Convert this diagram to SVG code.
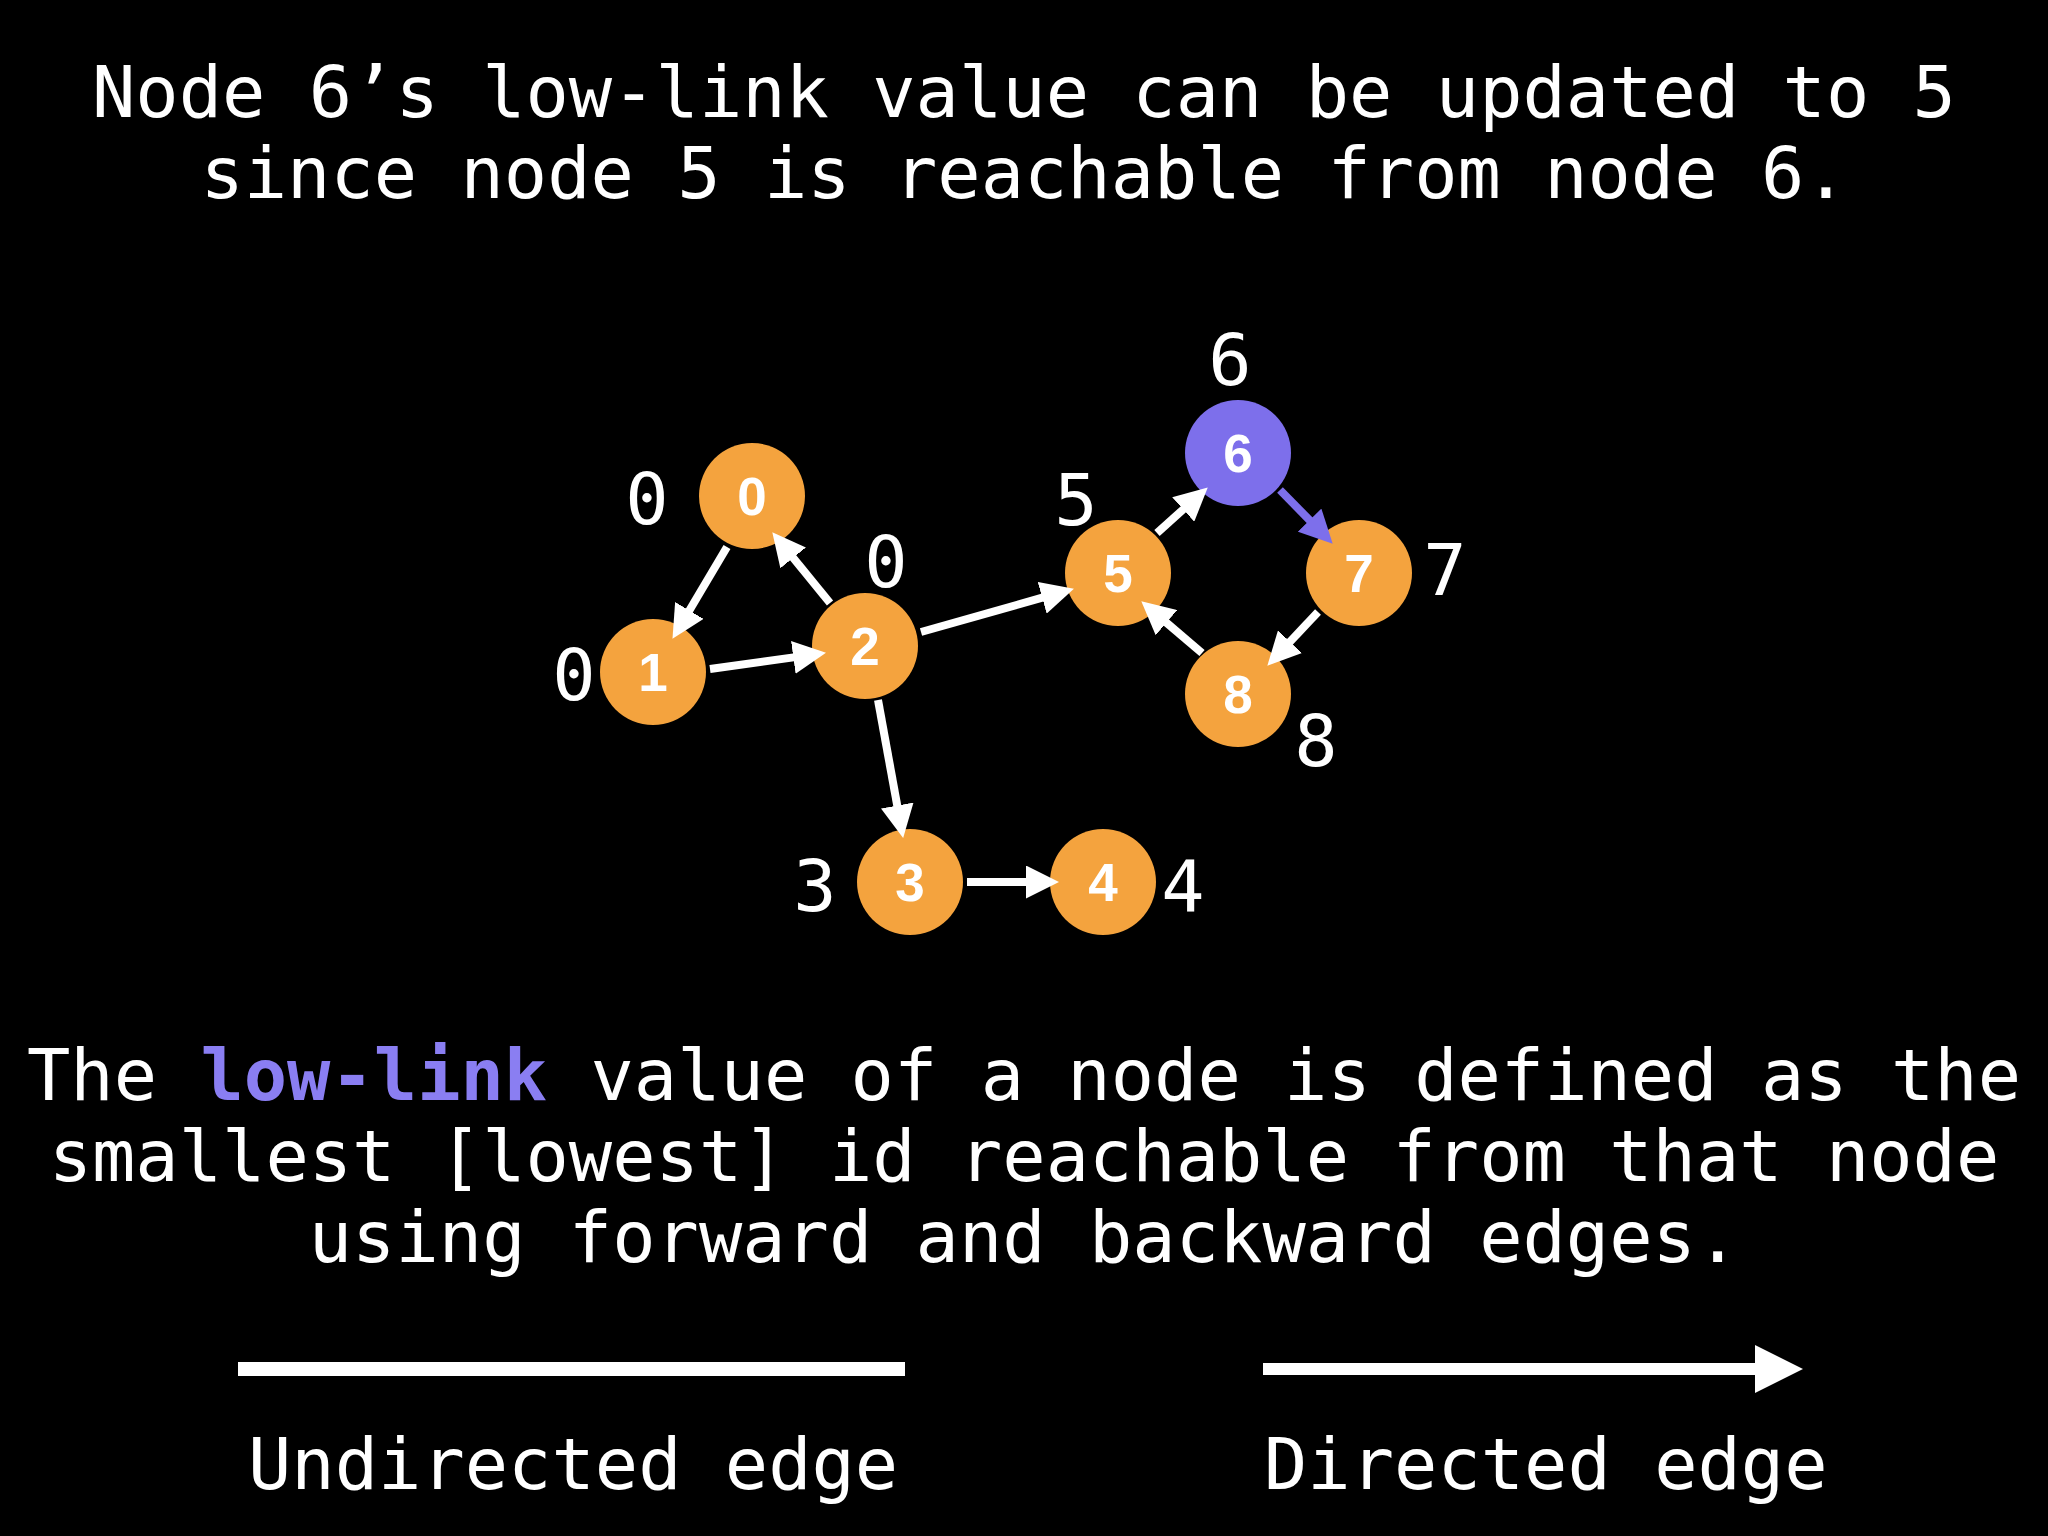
<svg xmlns="http://www.w3.org/2000/svg" width="2048" height="1536" viewBox="0 0 2048 1536">
  <defs>
    <style>
      .txt { font-family: "DejaVu Sans Mono", "Liberation Mono", monospace; font-size: 72px; fill: #ffffff; }
      .mid { text-anchor: middle; }
      .hl { fill: #8A7EF2; font-weight: bold; }
      .node { fill: #F4A33E; }
      .node-hl { fill: #7D6FEB; }
      .nlabel { font-family: "Liberation Sans", Arial, sans-serif; font-weight: bold; font-size: 53px; fill: #ffffff; text-anchor: middle; }
      .llv { font-family: "DejaVu Sans Mono", "Liberation Mono", monospace; font-size: 72px; fill: #ffffff; text-anchor: middle; }
      .edge { stroke: #ffffff; stroke-width: 8; fill: none; marker-end: url(#arrow); }
      .edge-hl { stroke: #7D6FEB; stroke-width: 8; fill: none; marker-end: url(#arrow-hl); }
    </style>
    <marker id="arrow" viewBox="0 0 33 33" refX="2" refY="16.5" markerWidth="33" markerHeight="33" markerUnits="userSpaceOnUse" orient="auto">
      <path d="M0,0 L33,16.5 L0,33 Z" fill="#ffffff"/>
    </marker>
    <marker id="arrow-hl" viewBox="0 0 33 33" refX="2" refY="16.5" markerWidth="33" markerHeight="33" markerUnits="userSpaceOnUse" orient="auto">
      <path d="M0,0 L33,16.5 L0,33 Z" fill="#7D6FEB"/>
    </marker>
    <marker id="arrow-big" viewBox="0 0 48 48" refX="2" refY="24" markerWidth="48" markerHeight="48" markerUnits="userSpaceOnUse" orient="auto">
      <path d="M0,0 L48,24 L0,48 Z" fill="#ffffff"/>
    </marker>
  </defs>

  <rect x="0" y="0" width="2048" height="1536" fill="#000000"/>

  <g id="title">
    <text class="txt mid" x="1024" y="117">Node 6’s low-link value can be updated to 5</text>
    <text class="txt mid" x="1024" y="198">since node 5 is reachable from node 6.</text>
  </g>

  <g id="node-0"><circle class="node" cx="752" cy="496" r="53"/><text class="nlabel" x="752" y="515">0</text><text class="llv" x="647" y="524">0</text></g>
  <g id="node-1"><circle class="node" cx="653" cy="672" r="53"/><text class="nlabel" x="653" y="691">1</text><text class="llv" x="574" y="700">0</text></g>
  <g id="node-2"><circle class="node" cx="865" cy="646" r="53"/><text class="nlabel" x="865" y="665">2</text><text class="llv" x="886" y="587">0</text></g>
  <g id="node-3"><circle class="node" cx="910" cy="882" r="53"/><text class="nlabel" x="910" y="901">3</text><text class="llv" x="815" y="911">3</text></g>
  <g id="node-4"><circle class="node" cx="1103" cy="882" r="53"/><text class="nlabel" x="1103" y="901">4</text><text class="llv" x="1183" y="911">4</text></g>
  <g id="node-5"><circle class="node" cx="1118" cy="573" r="53"/><text class="nlabel" x="1118" y="592">5</text><text class="llv" x="1076" y="525">5</text></g>
  <g id="node-6"><circle class="node-hl" cx="1238" cy="453" r="53"/><text class="nlabel" x="1238" y="472">6</text><text class="llv" x="1230" y="385">6</text></g>
  <g id="node-7"><circle class="node" cx="1359" cy="573" r="53"/><text class="nlabel" x="1359" y="592">7</text><text class="llv" x="1445" y="595">7</text></g>
  <g id="node-8"><circle class="node" cx="1238" cy="694" r="53"/><text class="nlabel" x="1238" y="713">8</text><text class="llv" x="1316" y="766">8</text></g>

  <g id="connectors">
    <line class="edge" x1="727" y1="547" x2="688.3" y2="612.2"/>
    <line class="edge" x1="830" y1="603" x2="791.9" y2="556.3"/>
    <line class="edge" x1="710" y1="669" x2="795.3" y2="657.1"/>
    <line class="edge" x1="921" y1="632" x2="1044.1" y2="597.2"/>
    <line class="edge" x1="878" y1="700" x2="897.6" y2="807.5"/>
    <line class="edge" x1="967" y1="882" x2="1028" y2="882"/>
    <line class="edge" x1="1157" y1="533" x2="1184.7" y2="508.1"/>
    <line class="edge-hl" x1="1280" y1="490" x2="1311" y2="521.6"/>
    <line class="edge" x1="1318" y1="612" x2="1288.6" y2="643.2"/>
    <line class="edge" x1="1202" y1="653" x2="1164.9" y2="621.4"/>
  </g>

  <g id="definition">
    <text class="txt mid" x="1024" y="1100">The <tspan class="hl">low-link</tspan> value of a node is defined as the</text>
    <text class="txt mid" x="1024" y="1181">smallest [lowest] id reachable from that node</text>
    <text class="txt mid" x="1024" y="1262">using forward and backward edges.</text>
  </g>

  <g id="legend">
    <line x1="238" y1="1369" x2="905" y2="1369" stroke="#ffffff" stroke-width="14"/>
    <line x1="1263" y1="1369" x2="1757" y2="1369" stroke="#ffffff" stroke-width="12" marker-end="url(#arrow-big)"/>
    <text class="txt" x="248" y="1489">Undirected edge</text>
    <text class="txt" x="1264" y="1489">Directed edge</text>
  </g>
</svg>
